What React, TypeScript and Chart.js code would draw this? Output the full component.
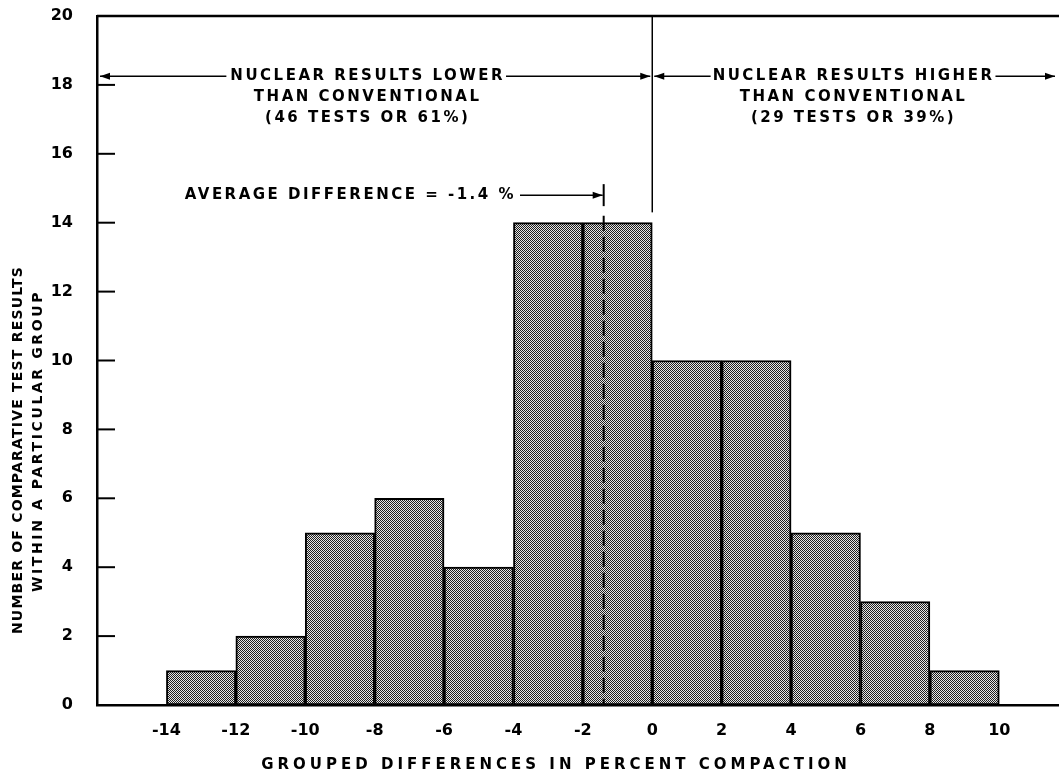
import React, { useEffect, useRef } from 'react';
import { Chart, registerables } from 'chart.js';

Chart.register(...registerables);

// ---- Data ----
const binStarts = [-14, -12, -10, -8, -6, -4, -2, 0, 2, 4, 6, 8];
const binWidth = 2;
const binCounts = [1, 2, 5, 6, 4, 14, 14, 10, 10, 5, 3, 1];
const xTicks = [-14, -12, -10, -8, -6, -4, -2, 0, 2, 4, 6, 8, 10];
const yTicks = [0, 2, 4, 6, 8, 10, 12, 14, 16, 18, 20];
const averageDifference = -1.4;
const xTitle = 'GROUPED DIFFERENCES IN PERCENT COMPACTION';
const yTitleLines = ['NUMBER OF COMPARATIVE TEST RESULTS', 'WITHIN A PARTICULAR GROUP'];
const lowerLines = ['NUCLEAR RESULTS LOWER', 'THAN CONVENTIONAL', '(46 TESTS OR 61%)'];
const higherLines = ['NUCLEAR RESULTS HIGHER', 'THAN CONVENTIONAL', '(29 TESTS OR 39%)'];
const averageLabel = 'AVERAGE DIFFERENCE = -1.4 %';

const FONT = '"DejaVu Sans", "Noto Sans", sans-serif';

function makePattern(): CanvasPattern | string {
  const c = document.createElement('canvas');
  c.width = 2;
  c.height = 2;
  const g = c.getContext('2d');
  if (!g) return '#a8a8a8';
  g.fillStyle = '#e6e6e6';
  g.fillRect(0, 0, 2, 2);
  g.fillStyle = '#1e1e1e';
  g.fillRect(0, 0, 1, 1);
  g.fillRect(1, 1, 1, 1);
  const p = g.createPattern(c, 'repeat');
  return p || '#a8a8a8';
}

function arrowHead(ctx: CanvasRenderingContext2D, tipX: number, y: number, dir: number) {
  ctx.beginPath();
  ctx.moveTo(tipX, y);
  ctx.lineTo(tipX - dir * 10, y - 3.5);
  ctx.lineTo(tipX - dir * 10, y + 3.5);
  ctx.closePath();
  ctx.fill();
}

const annotationPlugin = {
  id: 'annotations',
  afterDatasetsDraw(chart: any) {
    const { ctx, chartArea, scales } = chart;
    const xs = scales.x;
    const ys = scales.y;
    ctx.save();
    ctx.strokeStyle = '#000';
    ctx.fillStyle = '#000';
    ctx.lineCap = 'butt';

    // top frame line
    ctx.lineWidth = 2.5;
    ctx.beginPath();
    ctx.moveTo(chartArea.left, chartArea.top);
    ctx.lineTo(chartArea.right, chartArea.top);
    ctx.stroke();

    // inward y tick marks
    ctx.lineWidth = 2;
    yTicks.forEach((v) => {
      if (v === 0 || v === 20) return;
      const py = ys.getPixelForValue(v);
      ctx.beginPath();
      ctx.moveTo(chartArea.left, py);
      ctx.lineTo(chartArea.left + 18, py);
      ctx.stroke();
    });

    // vertical line at 0
    const x0 = xs.getPixelForValue(0);
    ctx.lineWidth = 1.5;
    ctx.beginPath();
    ctx.moveTo(x0, chartArea.top);
    ctx.lineTo(x0, ys.getPixelForValue(14.3));
    ctx.stroke();

    // dashed average line
    const xa = xs.getPixelForValue(averageDifference);
    ctx.lineWidth = 2;
    ctx.setLineDash([15, 6]);
    ctx.beginPath();
    ctx.moveTo(xa, ys.getPixelForValue(14.2));
    ctx.lineTo(xa, ys.getPixelForValue(0));
    ctx.stroke();
    ctx.setLineDash([]);

    ctx.font = 'bold 15px ' + FONT;
    (ctx as any).letterSpacing = '2.5px';
    ctx.textAlign = 'center';
    ctx.textBaseline = 'middle';

    // header texts
    const rowY = ys.getPixelForValue(18.25);
    const drawBlock = (lines: string[], cx: number) => {
      lines.forEach((t, i) => ctx.fillText(t, cx, rowY + i * 21));
    };
    const lcx = xs.getPixelForValue(-8.2);
    const rcx = xs.getPixelForValue(5.8);
    drawBlock(lowerLines, lcx);
    drawBlock(higherLines, rcx);

    const lw = ctx.measureText(lowerLines[0]).width;
    const rw = ctx.measureText(higherLines[0]).width;
    ctx.lineWidth = 1.5;
    // left arrows
    ctx.beginPath();
    ctx.moveTo(chartArea.left + 3, rowY);
    ctx.lineTo(lcx - lw / 2 - 4, rowY);
    ctx.moveTo(lcx + lw / 2 + 1, rowY);
    ctx.lineTo(x0 - 2, rowY);
    ctx.stroke();
    arrowHead(ctx, chartArea.left + 3, rowY, -1);
    arrowHead(ctx, x0 - 2, rowY, 1);
    // right arrows
    ctx.beginPath();
    ctx.moveTo(x0 + 2, rowY);
    ctx.lineTo(rcx - rw / 2 - 2, rowY);
    ctx.moveTo(rcx + rw / 2 + 1, rowY);
    ctx.lineTo(chartArea.right - 4, rowY);
    ctx.stroke();
    arrowHead(ctx, x0 + 2, rowY, -1);
    arrowHead(ctx, chartArea.right - 4, rowY, 1);

    // average label
    const avY = ys.getPixelForValue(14.8);
    const acx = xs.getPixelForValue(-8.7);
    ctx.fillText(averageLabel, acx, avY);
    const aw = ctx.measureText(averageLabel).width;
    ctx.beginPath();
    ctx.moveTo(acx + aw / 2 + 4, avY);
    ctx.lineTo(xa - 1, avY);
    ctx.stroke();
    arrowHead(ctx, xa - 1, avY, 1);
    ctx.lineWidth = 2;
    ctx.beginPath();
    ctx.moveTo(xa, avY - 11);
    ctx.lineTo(xa, avY + 11);
    ctx.stroke();

    // x title
    ctx.font = 'bold 15px ' + FONT;
    (ctx as any).letterSpacing = '4px';
    ctx.fillText(xTitle, 556, 765);

    // y title
    ctx.font = 'bold 14px ' + FONT;
    const yCenters = [[18, 450, 1.2], [38, 441, 2.6]];
    yTitleLines.forEach((t, i) => {
      ctx.save();
      (ctx as any).letterSpacing = yCenters[i][2] + 'px';
      ctx.translate(yCenters[i][0], yCenters[i][1]);
      ctx.rotate(-Math.PI / 2);
      ctx.fillText(t, 0, 0);
      ctx.restore();
    });

    ctx.restore();
  },
};

export default function App() {
  const ref = useRef<HTMLCanvasElement | null>(null);
  useEffect(() => {
    if (!ref.current) return;
    const pattern = makePattern();
    const chart = new Chart(ref.current, {
      type: 'bar',
      data: {
        datasets: [
          {
            data: binStarts.map((s, i) => ({ x: s + binWidth / 2, y: binCounts[i] })),
            backgroundColor: pattern as any,
            borderColor: '#000',
            borderWidth: 2,
            borderSkipped: false,
            barPercentage: 1,
            categoryPercentage: 1,
          },
        ],
      },
      options: {
        animation: false,
        responsive: true,
        maintainAspectRatio: false,
        layout: { padding: { top: 16, right: 0, left: 0, bottom: 0 } },
        plugins: { legend: { display: false }, tooltip: { enabled: false } },
        scales: {
          x: {
            type: 'linear',
            offset: false,
            min: -16,
            max: 11.72,
            grid: { display: false, offset: false },
            border: { display: true, color: '#000', width: 2.5 },
            afterBuildTicks: (s: any) => {
              s.ticks = xTicks.map((v) => ({ value: v }));
            },
            afterFit: (s: any) => {
              s.height = 73;
              s.paddingLeft = 0;
              s.paddingRight = 0;
            },
            ticks: {
              color: '#000',
              padding: 8,
              maxRotation: 0,
              autoSkip: false,
              font: { family: FONT, size: 16, weight: 'bold' },
              callback: (v: any) => String(v),
            },
          },
          y: {
            min: 0,
            max: 20,
            grid: { display: false },
            border: { display: true, color: '#000', width: 2.5 },
            afterBuildTicks: (s: any) => {
              s.ticks = yTicks.map((v) => ({ value: v }));
            },
            afterFit: (s: any) => {
              s.width = 97;
              s.paddingTop = 0;
              s.paddingBottom = 0;
            },
            ticks: {
              color: '#000',
              padding: 16,
              autoSkip: false,
              font: { family: FONT, size: 16, weight: 'bold' },
            },
          },
        },
      },
      plugins: [annotationPlugin],
    } as any);
    return () => chart.destroy();
  }, []);
  return (
    <div style={{ position: 'fixed', left: 0, top: 0, width: 1059, height: 778, background: '#fff' }}>
      <canvas ref={ref} />
    </div>
  );
}
